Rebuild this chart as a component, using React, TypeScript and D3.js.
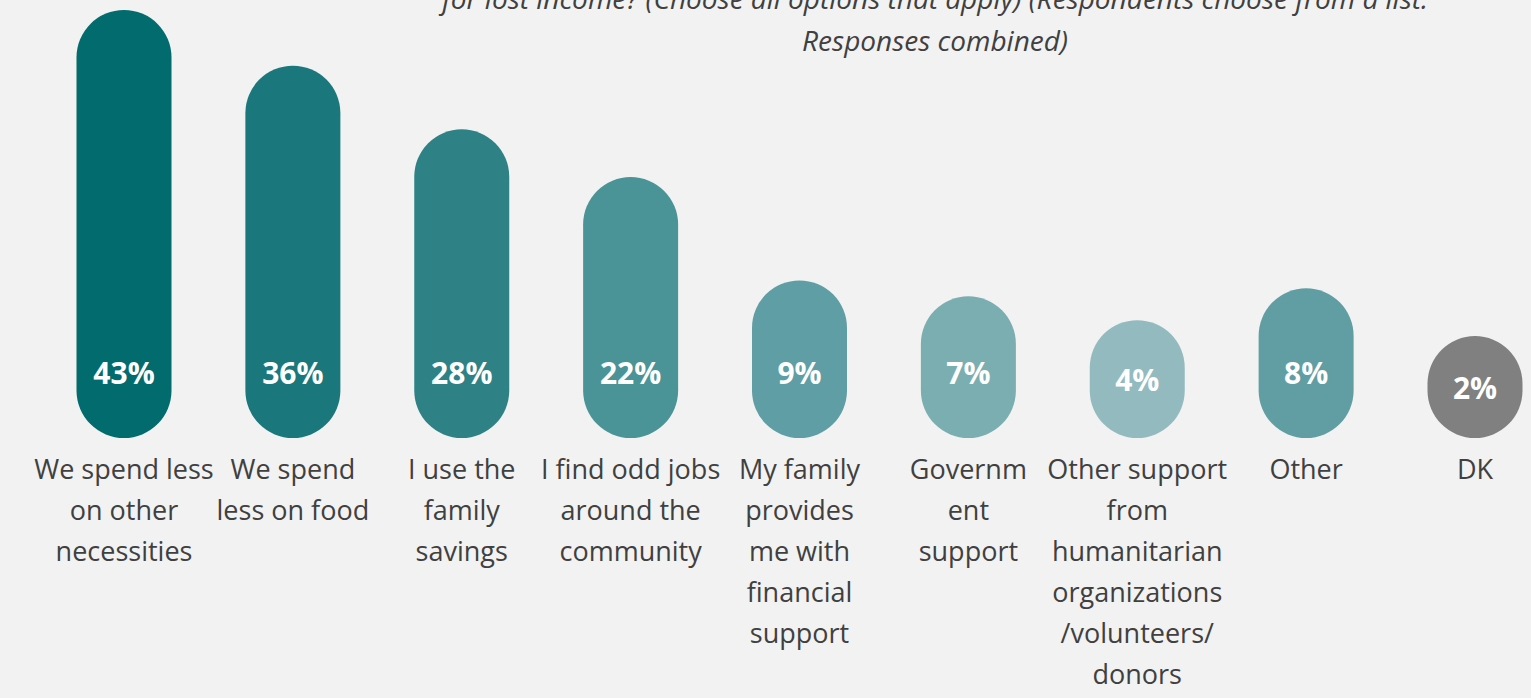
import React from "react";
import * as d3 from "d3";

const categories: string[][] = [
  ["We spend less", "on other", "necessities"],
  ["We spend", "less on food"],
  ["I use the", "family", "savings"],
  ["I find odd jobs", "around the", "community"],
  ["My family", "provides", "me with", "financial", "support"],
  ["Governm", "ent", "support"],
  ["Other support", "from", "humanitarian", "organizations", "/volunteers/", "donors"],
  ["Other"],
  ["DK"],
];
const values: number[] = [43, 36, 28, 22, 9, 7, 4, 8, 2];
const barColors: string[] = [
  "#016b6d", "#1a777c", "#2e8286", "#4a9497", "#5e9ea4",
  "#7aaeb1", "#93bbbf", "#609ea4", "#808080",
];
const titleLines: string[] = [
  "for lost income? (Choose all options that apply) (Respondents choose from a list.",
  "Responses combined)",
];

const W = 1531;
const H = 698;

export default function App() {
  const idx = values.map((_, i) => i);
  const x = d3.scalePoint<number>().domain(idx).range([124, 1475]);
  const h = d3.scaleLinear().domain([0, 43]).range([86, 428]);
  const baseline = 438;
  const barW = 95;
  const font = "'Open Sans', sans-serif";
  return (
    <svg
      width={W}
      height={H}
      style={{ position: "absolute", left: 0, top: 0, background: "#f2f2f2" }}
    >
      <rect x={0} y={0} width={W} height={H} fill="#f2f2f2" />
      {titleLines.map((t, i) => (
        <text
          key={i}
          x={935}
          y={9 + i * 42}
          textAnchor="middle"
          fontFamily={font}
          fontStyle="italic"
          fontWeight={400}
          fontSize={28}
          fill="#404040"
        >
          {t}
        </text>
      ))}
      {idx.map((i) => {
        const cx = x(i)!;
        const bh = h(values[i]);
        const top = baseline - bh;
        const r = Math.min(barW / 2, bh / 2);
        const ly = baseline - Math.min(bh / 2, 66) + 12;
        return (
          <g key={i}>
            <rect
              x={cx - barW / 2}
              y={top}
              width={barW}
              height={bh}
              rx={barW / 2}
              ry={r}
              fill={barColors[i]}
            />
            <text
              x={cx}
              y={ly}
              textAnchor="middle"
              fontFamily={font}
              fontWeight={700}
              fontSize={30}
              fill="#ffffff"
            >
              {values[i]}%
            </text>
            {categories[i].map((line, j) => (
              <text
                key={j}
                x={cx}
                y={479 + j * 41}
                textAnchor="middle"
                fontFamily={font}
                fontSize={27}
                fill="#404040"
              >
                {line}
              </text>
            ))}
          </g>
        );
      })}
    </svg>
  );
}
